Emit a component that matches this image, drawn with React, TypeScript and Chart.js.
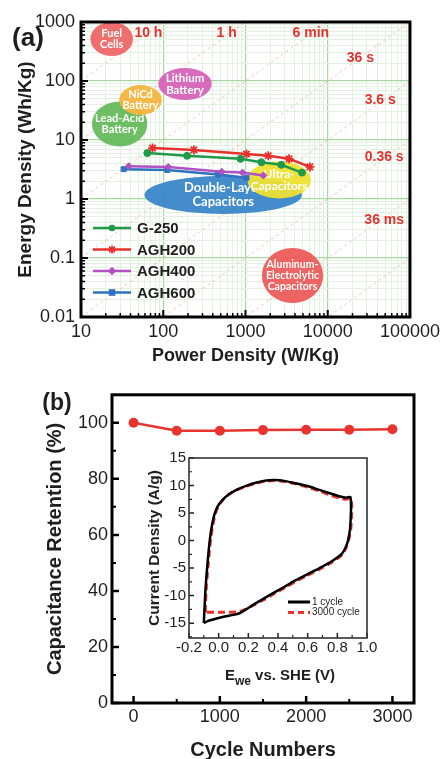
import React, { useEffect, useRef } from "react";
import { Chart, registerables } from "chart.js";

Chart.register(...registerables);

const SANS = "'Liberation Sans', Arial, Helvetica, sans-serif";
const ROUND = "Lato, 'Open Sans', 'Noto Sans', sans-serif";
const INK = "#1e1e1e";

// ---------------- Panel (a): Ragone plot ----------------
const seriesNames = ["G-250", "AGH200", "AGH400", "AGH600"];
const g250Power = [64, 195, 870, 1560, 2720, 4860];
const g250Energy = [6.0, 5.4, 4.8, 4.2, 3.8, 2.8];
const agh200Power = [74, 236, 1030, 1890, 3390, 6070];
const agh200Energy = [7.3, 6.8, 5.8, 5.4, 4.8, 3.5];
const agh400Power = [38, 115, 514, 920, 1650];
const agh400Energy = [3.6, 3.5, 2.9, 2.8, 2.5];
const agh600Power = [33, 112, 460, 1030];
const agh600Energy = [3.2, 3.1, 2.6, 2.3];

const seriesColors = ["#1f9a4a", "#e8302c", "#b052c2", "#2f72bd"];
const seriesMarkers = ["circle", "star", "rectRot", "rect"];

const regionLabels = [
  ["Fuel", "Cells"],
  ["Lithium", "Battery"],
  ["Lead-Acid", "Battery"],
  ["NiCd", "Battery"],
  ["Double-Layer", "Capacitors"],
  ["Ultra-", "Capacitors"],
  ["Aluminum-", "Electrolytic", "Capacitors"],
];
const regionPower = [23.6, 184, 29.5, 52.9, 536, 2570, 3730];
const regionEnergy = [515, 89, 18.7, 47.6, 1.17, 2.1, 0.0505];
const regionPowerDecades = [0.259, 0.325, 0.337, 0.259, 0.958, 0.386, 0.373];
const regionEnergyDecades = [0.288, 0.271, 0.381, 0.254, 0.322, 0.314, 0.466];
const regionColors = ["#ee6767", "#d763b8", "#66bb5c", "#f5b43f", "#3a86c8", "#eee033", "#ec5c5a"];
const regionFontSizes = [11, 11.5, 11, 11, 13, 12, 10.5];

const timeLineHours = [100, 10, 1, 0.1, 0.01, 0.001, 1e-4, 1e-5, 1e-6];
const timeLabels = ["10 h", "1 h", "6 min", "36 s", "3.6 s", "0.36 s", "36 ms"];
const timeLabelPower = [66, 590, 6240, 25000, 43500, 48600, 48600];
const timeLabelEnergy = [650, 650, 650, 245, 47.6, 5.15, 0.44];

const powerMin = 10;
const powerMax = 100000;
const energyMin = 0.01;
const energyMax = 1000;

// ---------------- Panel (b): cycling ----------------
const cycleNumbers = [0, 500, 1000, 1500, 2000, 2500, 3000];
const retention = [100, 97.2, 97.2, 97.4, 97.5, 97.5, 97.7];
const cycleTicks = [0, 1000, 2000, 3000];
const cycleMinorTicks = [500, 1500, 2500];
const retentionTicks = [0, 20, 40, 60, 80, 100];
const retentionMinorTicks = [10, 30, 50, 70, 90];

// inset CV curves
const cv1Potential = [
  -0.1, -0.095, -0.088, -0.078, -0.068, -0.058, -0.045, -0.028, -0.005, 0.03, 0.07, 0.12, 0.18, 0.25,
  0.32, 0.38, 0.45, 0.52, 0.6, 0.68, 0.76, 0.82, 0.86, 0.888, 0.892, 0.89, 0.885, 0.872, 0.855, 0.83,
  0.76, 0.68, 0.6, 0.52, 0.45, 0.37, 0.3, 0.23, 0.18, 0.14, 0.1, 0.04, -0.02, -0.07, -0.1,
];
const cv1Current = [
  -15.0, -12.0, -8.5, -5.0, -2.0, 0.5, 2.8, 4.8, 6.3, 7.5, 8.4, 9.2, 9.9, 10.5, 10.9, 11.0, 10.8, 10.4,
  9.9, 9.2, 8.5, 8.0, 7.8, 7.9, 6.0, 4.0, 2.0, 0.0, -1.3, -2.4, -3.8, -5.0, -6.1, -7.2, -8.3, -9.5,
  -10.6, -11.7, -12.6, -13.2, -13.5, -13.8, -14.2, -14.6, -15.0,
];
const cv3000Potential = [
  -0.09, -0.088, -0.082, -0.073, -0.063, -0.053, -0.04, -0.022, 0.0, 0.035, 0.075, 0.12, 0.18, 0.25,
  0.32, 0.38, 0.45, 0.52, 0.6, 0.68, 0.76, 0.82, 0.86, 0.89, 0.897, 0.895, 0.89, 0.875, 0.855, 0.83,
  0.76, 0.68, 0.6, 0.52, 0.45, 0.37, 0.3, 0.23, 0.18, 0.14, 0.1, 0.04, -0.03, -0.09,
];
const cv3000Current = [
  -13.0, -11.0, -8.0, -5.0, -2.0, 0.5, 2.8, 4.9, 6.4, 7.6, 8.5, 9.2, 9.8, 10.4, 10.8, 10.9, 10.7, 10.3,
  9.7, 9.0, 8.2, 7.7, 7.5, 7.6, 6.0, 4.0, 2.0, 0.0, -1.5, -2.6, -4.0, -5.2, -6.3, -7.4, -8.5, -9.7,
  -10.8, -11.8, -12.5, -12.9, -13.0, -13.0, -13.0, -13.0,
];
const cvNames = ["1 cycle", "3000 cycle"];
const potentialTicks = [-0.2, 0.0, 0.2, 0.4, 0.6, 0.8, 1.0];
const potentialMinorTicks = [-0.1, 0.1, 0.3, 0.5, 0.7, 0.9];
const currentTicks = [-15, -10, -5, 0, 5, 10, 15];
const currentMinorTicks = [-17.5, -12.5, -7.5, -2.5, 2.5, 7.5, 12.5];

// ---------------- helpers ----------------
function logTicks(min: number, max: number) {
  const out: number[] = [];
  for (let e = Math.floor(Math.log10(min)); e <= Math.ceil(Math.log10(max)); e++) {
    for (let m = 1; m < 10; m++) {
      const v = parseFloat((m * Math.pow(10, e)).toPrecision(6));
      if (v >= min * 0.999 && v <= max * 1.001) out.push(v);
    }
  }
  return out;
}
function isDecade(v: any) {
  if (typeof v !== "number" || v <= 0) return false;
  const l = Math.log10(v);
  return Math.abs(l - Math.round(l)) < 1e-6;
}
function fmtDecade(v: number) {
  return v >= 1 ? String(Math.round(v)) : String(parseFloat(v.toPrecision(1)));
}

function drawMarker(ctx: CanvasRenderingContext2D, style: string, x: number, y: number, r: number, color: string) {
  ctx.save();
  ctx.fillStyle = color;
  ctx.strokeStyle = color;
  ctx.beginPath();
  if (style === "circle") {
    ctx.arc(x, y, r, 0, Math.PI * 2);
    ctx.fill();
  } else if (style === "rect") {
    ctx.fillRect(x - r, y - r, 2 * r, 2 * r);
  } else if (style === "rectRot") {
    ctx.moveTo(x, y - r * 1.3);
    ctx.lineTo(x + r * 1.3, y);
    ctx.lineTo(x, y + r * 1.3);
    ctx.lineTo(x - r * 1.3, y);
    ctx.closePath();
    ctx.fill();
  } else {
    ctx.lineWidth = 1.6;
    for (let k = 0; k < 4; k++) {
      const a = (k * Math.PI) / 4;
      ctx.moveTo(x - Math.cos(a) * r, y - Math.sin(a) * r);
      ctx.lineTo(x + Math.cos(a) * r, y + Math.sin(a) * r);
    }
    ctx.stroke();
  }
  ctx.restore();
}

function inwardTicks(
  ctx: CanvasRenderingContext2D,
  area: any,
  scale: any,
  values: number[],
  len: number,
  axis: "x" | "y",
  width: number,
  color: string
) {
  ctx.save();
  ctx.strokeStyle = color;
  ctx.lineWidth = width;
  ctx.beginPath();
  values.forEach((v) => {
    const p = scale.getPixelForValue(v);
    if (axis === "x") {
      if (p < area.left - 0.5 || p > area.right + 0.5) return;
      ctx.moveTo(p, area.bottom);
      ctx.lineTo(p, area.bottom - len);
    } else {
      if (p < area.top - 0.5 || p > area.bottom + 0.5) return;
      ctx.moveTo(area.left, p);
      ctx.lineTo(area.left + len, p);
    }
  });
  ctx.stroke();
  ctx.restore();
}

function rotatedText(ctx: CanvasRenderingContext2D, text: string, x: number, y: number, font: string) {
  ctx.save();
  ctx.translate(x, y);
  ctx.rotate(-Math.PI / 2);
  ctx.font = font;
  ctx.fillStyle = INK;
  ctx.textAlign = "center";
  ctx.textBaseline = "middle";
  ctx.fillText(text, 0, 0);
  ctx.restore();
}

const MAJOR_GRID = "#a8d7a1";
const MINOR_GRID = "#e3f1e0";

// ---------------- configs ----------------
function ragoneConfig(): any {
  const seriesPower = [g250Power, agh200Power, agh400Power, agh600Power];
  const seriesEnergy = [g250Energy, agh200Energy, agh400Energy, agh600Energy];
  const seriesSets = seriesNames.map((name, i) => ({
    label: name,
    data: seriesPower[i].map((p, j) => ({ x: p, y: seriesEnergy[i][j] })),
    borderColor: seriesColors[i],
    backgroundColor: seriesColors[i],
    borderWidth: 2.5,
    pointStyle: seriesMarkers[i],
    pointRadius: i === 1 ? 4.5 : 3.5,
    pointBorderWidth: i === 1 ? 1.8 : 1,
    tension: 0,
  }));
  const lineSets = timeLineHours.map((t) => ({
    label: "t" + t,
    data: [
      { x: powerMin, y: powerMin * t },
      { x: powerMax, y: powerMax * t },
    ],
    borderColor: "rgba(234,110,110,0.5)",
    borderWidth: 0.8,
    borderDash: [3, 3],
    pointRadius: 0,
  }));

  const plugin = {
    id: "ragoneDecor",
    beforeDatasetDraw(chart: any, args: any) {
      if (args.index !== seriesNames.length - 1) return;
      const { ctx, chartArea: a, scales } = chart;
      const x = scales.x;
      const y = scales.y;
      ctx.save();
      ctx.beginPath();
      ctx.rect(a.left, a.top, a.right - a.left, a.bottom - a.top);
      ctx.clip();
      regionLabels.forEach((lines, i) => {
        const cx = x.getPixelForValue(regionPower[i]);
        const cy = y.getPixelForValue(regionEnergy[i]);
        const fx = Math.pow(10, regionPowerDecades[i]);
        const fy = Math.pow(10, regionEnergyDecades[i]);
        const rx = Math.abs(x.getPixelForValue(regionPower[i] * fx) - x.getPixelForValue(regionPower[i] / fx)) / 2;
        const ry = Math.abs(y.getPixelForValue(regionEnergy[i] * fy) - y.getPixelForValue(regionEnergy[i] / fy)) / 2;
        ctx.globalAlpha = 0.95;
        ctx.fillStyle = regionColors[i];
        ctx.beginPath();
        ctx.ellipse(cx, cy, rx, ry, 0, 0, Math.PI * 2);
        ctx.fill();
        ctx.globalAlpha = 1;
        const fs = regionFontSizes[i];
        ctx.font = `bold ${fs}px ${ROUND}`;
        ctx.fillStyle = "#ffffff";
        ctx.textAlign = "center";
        ctx.textBaseline = "middle";
        const lh = fs * 1.05;
        lines.forEach((ln, k) => {
          ctx.fillText(ln, cx, cy + (k - (lines.length - 1) / 2) * lh);
        });
      });
      ctx.restore();
    },
    afterDraw(chart: any) {
      const { ctx, chartArea: a, scales } = chart;
      const x = scales.x;
      const y = scales.y;
      // time labels
      ctx.save();
      ctx.font = `bold 14px ${SANS}`;
      ctx.fillStyle = "#e5322d";
      ctx.textAlign = "center";
      ctx.textBaseline = "middle";
      timeLabels.forEach((t, i) => {
        ctx.fillText(t, x.getPixelForValue(timeLabelPower[i]), y.getPixelForValue(timeLabelEnergy[i]));
      });
      ctx.restore();
      // inward ticks
      const xt = logTicks(powerMin, powerMax);
      const yt = logTicks(energyMin, energyMax);
      inwardTicks(ctx, a, x, xt.filter(isDecade), 7, "x", 2, "#000");
      inwardTicks(ctx, a, x, xt.filter((v) => !isDecade(v)), 4, "x", 1.5, "#000");
      inwardTicks(ctx, a, y, yt.filter(isDecade), 7, "y", 2, "#000");
      inwardTicks(ctx, a, y, yt.filter((v) => !isDecade(v)), 4, "y", 1.5, "#000");
      // frame
      ctx.save();
      ctx.strokeStyle = "#000";
      ctx.lineWidth = 3;
      ctx.strokeRect(a.left, a.top, a.right - a.left, a.bottom - a.top);
      ctx.restore();
      // legend
      ctx.save();
      seriesNames.forEach((name, i) => {
        const ly = a.top + 206 + i * 21.5;
        const lx0 = a.left + 12;
        const lx1 = a.left + 50;
        ctx.strokeStyle = seriesColors[i];
        ctx.lineWidth = 2.5;
        ctx.beginPath();
        ctx.moveTo(lx0, ly);
        ctx.lineTo(lx1, ly);
        ctx.stroke();
        drawMarker(ctx, seriesMarkers[i], (lx0 + lx1) / 2, ly, i === 1 ? 4 : 3.3, seriesColors[i]);
        ctx.font = `bold 15px ${SANS}`;
        ctx.fillStyle = INK;
        ctx.textAlign = "left";
        ctx.textBaseline = "middle";
        ctx.fillText(name, a.left + 56, ly + 1);
      });
      ctx.restore();
      // titles
      rotatedText(ctx, "Energy Density (Wh/Kg)", 26, (a.top + a.bottom) / 2, `bold 19px ${SANS}`);
      ctx.save();
      ctx.font = `bold 18px ${SANS}`;
      ctx.fillStyle = INK;
      ctx.textAlign = "center";
      ctx.textBaseline = "middle";
      ctx.fillText("Power Density (W/Kg)", (a.left + a.right) / 2, 356);
      ctx.font = `bold 26px ${SANS}`;
      ctx.fillText("(a)", 28, 39);
      ctx.restore();
    },
  };

  return {
    type: "line",
    data: { datasets: [...seriesSets, ...lineSets] },
    options: {
      responsive: false,
      animation: false,
      parsing: true,
      layout: { padding: { left: 0, top: 22, right: 31, bottom: 0 } },
      plugins: { legend: { display: false }, tooltip: { enabled: false } },
      scales: {
        x: {
          type: "logarithmic",
          position: "bottom",
          min: powerMin,
          max: powerMax,
          afterBuildTicks: (s: any) => {
            s.ticks = logTicks(powerMin, powerMax).map((v) => ({ value: v }));
          },
          afterFit: (s: any) => {
            s.height = 63;
          },
          grid: {
            color: (c: any) => (isDecade(c.tick && c.tick.value) ? MAJOR_GRID : MINOR_GRID),
            lineWidth: (c: any) => (isDecade(c.tick && c.tick.value) ? 1.2 : 1),
            drawTicks: false,
          },
          border: { display: false },
          ticks: {
            autoSkip: false,
            maxRotation: 0,
            padding: 4,
            color: INK,
            font: { family: SANS, size: 18 },
            callback: (v: any) => (isDecade(v) ? fmtDecade(v) : ""),
          },
        },
        y: {
          type: "logarithmic",
          position: "left",
          min: energyMin,
          max: energyMax,
          afterBuildTicks: (s: any) => {
            s.ticks = logTicks(energyMin, energyMax).map((v) => ({ value: v }));
          },
          afterFit: (s: any) => {
            s.width = 81;
          },
          grid: {
            color: (c: any) => (isDecade(c.tick && c.tick.value) ? MAJOR_GRID : MINOR_GRID),
            lineWidth: (c: any) => (isDecade(c.tick && c.tick.value) ? 1.2 : 1),
            drawTicks: false,
          },
          border: { display: false },
          ticks: {
            autoSkip: false,
            padding: 6,
            color: INK,
            font: { family: SANS, size: 18 },
            callback: (v: any) => (isDecade(v) ? fmtDecade(v) : ""),
          },
        },
      },
    },
    plugins: [plugin],
  };
}

function cycleConfig(): any {
  const plugin = {
    id: "cycleDecor",
    afterDraw(chart: any) {
      const { ctx, chartArea: a, scales } = chart;
      inwardTicks(ctx, a, scales.x, cycleTicks, 7, "x", 2.5, "#000");
      inwardTicks(ctx, a, scales.x, cycleMinorTicks, 4, "x", 2, "#000");
      inwardTicks(ctx, a, scales.y, retentionTicks, 7, "y", 2.5, "#000");
      inwardTicks(ctx, a, scales.y, retentionMinorTicks, 4, "y", 2, "#000");
      ctx.save();
      ctx.strokeStyle = "#000";
      ctx.lineWidth = 3;
      ctx.strokeRect(a.left, a.top, a.right - a.left, a.bottom - a.top);
      ctx.restore();
      rotatedText(ctx, "Capacitance Retention (%)", 55, (a.top + a.bottom) / 2, `bold 20px ${SANS}`);
      ctx.save();
      ctx.font = `bold 20px ${SANS}`;
      ctx.fillStyle = INK;
      ctx.textAlign = "center";
      ctx.textBaseline = "middle";
      ctx.fillText("Cycle Numbers", (a.left + a.right) / 2, 370);
      ctx.font = `bold 23px ${SANS}`;
      ctx.fillText("(b)", 57, 24);
      ctx.restore();
    },
  };
  return {
    type: "line",
    data: {
      datasets: [
        {
          label: "Retention",
          data: cycleNumbers.map((c, i) => ({ x: c, y: retention[i] })),
          borderColor: "#e8342f",
          backgroundColor: "#e8342f",
          borderWidth: 2.5,
          pointRadius: 5,
          pointBorderWidth: 0,
          tension: 0,
        },
      ],
    },
    options: {
      responsive: false,
      animation: false,
      layout: { padding: { left: 0, top: 9, right: 30, bottom: 0 } },
      plugins: { legend: { display: false }, tooltip: { enabled: false } },
      scales: {
        x: {
          type: "linear",
          min: -250,
          max: 3250,
          afterBuildTicks: (s: any) => {
            s.ticks = cycleTicks.map((v) => ({ value: v }));
          },
          afterFit: (s: any) => {
            s.height = 56;
          },
          grid: { display: false, drawTicks: false },
          border: { display: false },
          ticks: {
            padding: 3,
            color: INK,
            font: { family: SANS, size: 18 },
            maxRotation: 0,
            autoSkip: false,
            callback: (v: any) => String(v),
          },
        },
        y: {
          type: "linear",
          min: 0,
          max: 110,
          afterBuildTicks: (s: any) => {
            s.ticks = retentionTicks.map((v) => ({ value: v }));
          },
          afterFit: (s: any) => {
            s.width = 112;
          },
          grid: { display: false, drawTicks: false },
          border: { display: false },
          ticks: {
            padding: 4,
            color: INK,
            font: { family: SANS, size: 18 },
            autoSkip: false,
            callback: (v: any) => String(v),
          },
        },
      },
    },
    plugins: [plugin],
  };
}

function cvConfig(): any {
  const plugin = {
    id: "cvDecor",
    afterDraw(chart: any) {
      const { ctx, chartArea: a, scales } = chart;
      inwardTicks(ctx, a, scales.x, potentialTicks, 5, "x", 1.5, "#222");
      inwardTicks(ctx, a, scales.x, potentialMinorTicks, 3, "x", 1.2, "#222");
      inwardTicks(ctx, a, scales.y, currentTicks, 5, "y", 1.5, "#222");
      inwardTicks(ctx, a, scales.y, currentMinorTicks, 3, "y", 1.2, "#222");
      ctx.save();
      ctx.strokeStyle = "#333";
      ctx.lineWidth = 1.6;
      ctx.strokeRect(a.left, a.top, a.right - a.left, a.bottom - a.top);
      ctx.restore();
      rotatedText(ctx, "Current Density (A/g)", 25, (a.top + a.bottom) / 2, `bold 15.5px ${SANS}`);
      // x title with subscript
      ctx.save();
      ctx.fillStyle = INK;
      ctx.textBaseline = "alphabetic";
      ctx.textAlign = "left";
      const main = `bold 15px ${SANS}`;
      const sub = `bold 12px ${SANS}`;
      ctx.font = main;
      const wE = ctx.measureText("E").width;
      const wRest = ctx.measureText(" vs. SHE (V)").width;
      ctx.font = sub;
      const wSub = ctx.measureText("we").width;
      const total = wE + wSub + wRest;
      let sx = (a.left + a.right) / 2 - total / 2 + 2;
      const by = 234;
      ctx.font = main;
      ctx.fillText("E", sx, by);
      sx += wE;
      ctx.font = sub;
      ctx.fillText("we", sx, by + 5);
      sx += wSub;
      ctx.font = main;
      ctx.fillText(" vs. SHE (V)", sx, by);
      // legend
      const items = [
        { color: "#000", dash: [] as number[], w: 3 },
        { color: "#e8322d", dash: [6, 4], w: 3 },
      ];
      items.forEach((it, i) => {
        const ly = 156 + i * 10.5;
        ctx.strokeStyle = it.color;
        ctx.lineWidth = it.w;
        ctx.setLineDash(it.dash);
        ctx.beginPath();
        ctx.moveTo(158, ly);
        ctx.lineTo(180, ly);
        ctx.stroke();
        ctx.setLineDash([]);
        ctx.font = `10px ${SANS}`;
        ctx.fillStyle = INK;
        ctx.textBaseline = "middle";
        ctx.fillText(cvNames[i], 182, ly);
      });
      ctx.restore();
    },
  };
  return {
    type: "scatter",
    data: {
      datasets: [
        {
          label: cvNames[0],
          data: cv1Potential.map((p, i) => ({ x: p, y: cv1Current[i] })),
          showLine: true,
          borderColor: "#000000",
          borderWidth: 2.5,
          pointRadius: 0,
          tension: 0.25,
        },
        {
          label: cvNames[1],
          data: cv3000Potential.map((p, i) => ({ x: p, y: cv3000Current[i] })),
          showLine: true,
          borderColor: "#e8322d",
          borderWidth: 3,
          borderDash: [7, 4],
          pointRadius: 0,
          tension: 0.25,
        },
      ],
    },
    options: {
      responsive: false,
      animation: false,
      layout: { padding: { left: 0, top: 10, right: 13, bottom: 0 } },
      plugins: { legend: { display: false }, tooltip: { enabled: false } },
      scales: {
        x: {
          type: "linear",
          min: -0.2,
          max: 1.0,
          afterBuildTicks: (s: any) => {
            s.ticks = potentialTicks.map((v) => ({ value: v }));
          },
          afterFit: (s: any) => {
            s.height = 58;
          },
          grid: { display: false, drawTicks: false },
          border: { display: false },
          ticks: {
            padding: 1,
            color: INK,
            font: { family: SANS, size: 15 },
            maxRotation: 0,
            autoSkip: false,
            callback: (v: any) => Number(v).toFixed(1),
          },
        },
        y: {
          type: "linear",
          min: -17.7,
          max: 15,
          afterBuildTicks: (s: any) => {
            s.ticks = currentTicks.map((v) => ({ value: v }));
          },
          afterFit: (s: any) => {
            s.width = 59;
          },
          grid: { display: false, drawTicks: false },
          border: { display: false },
          ticks: { padding: 3, color: INK, font: { family: SANS, size: 15 }, autoSkip: false },
        },
      },
    },
    plugins: [plugin],
  };
}

export default function App() {
  const aRef = useRef<HTMLCanvasElement>(null);
  const bRef = useRef<HTMLCanvasElement>(null);
  const cRef = useRef<HTMLCanvasElement>(null);

  useEffect(() => {
    const charts = [
      new Chart(aRef.current as HTMLCanvasElement, ragoneConfig()),
      new Chart(bRef.current as HTMLCanvasElement, cycleConfig()),
      new Chart(cRef.current as HTMLCanvasElement, cvConfig()),
    ];
    return () => charts.forEach((c) => c.destroy());
  }, []);

  return (
    <div
      style={{
        position: "absolute",
        left: 0,
        top: 0,
        width: 444,
        height: 759,
        background: "#ffffff",
        overflow: "hidden",
      }}
    >
      <canvas ref={aRef} width={444} height={380} style={{ position: "absolute", left: 0, top: 0 }} />
      <canvas ref={bRef} width={444} height={379} style={{ position: "absolute", left: 0, top: 380 }} />
      <canvas ref={cRef} width={250} height={250} style={{ position: "absolute", left: 130, top: 446 }} />
    </div>
  );
}
